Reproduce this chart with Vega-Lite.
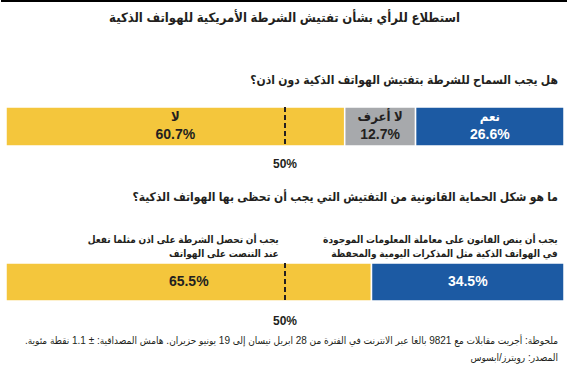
{
  "$schema": "https://vega.github.io/schema/vega-lite/v6.json",
  "padding": 0,
  "background": "white",
  "bounds": "flush",
  "spacing": 105,
  "resolve": {"scale": {"color": "independent", "x": "independent", "y": "independent"}},
  "config": {
    "view": {"stroke": null},
    "font": "Liberation Sans, DejaVu Sans Condensed, DejaVu Sans",
    "title": {"font": "Liberation Sans, DejaVu Sans Condensed, DejaVu Sans", "color": "#231f20"},
    "text": {"font": "Liberation Sans, DejaVu Sans Condensed, DejaVu Sans"}
  },
  "vconcat": [
    {
      "width": 567,
      "height": 2,
      "data": {"values": [{}]},
      "mark": {"type": "rule", "strokeWidth": 2, "color": "#000000"},
      "encoding": {
        "x": {"datum": 0, "type": "quantitative", "scale": {"domain": [0, 1], "range": [0, 567]}, "axis": null},
        "x2": {"datum": 1}
      },
      "title": {
        "text": "استطلاع للرأي بشأن تفتيش الشرطة الأمريكية للهواتف الذكية",
        "orient": "bottom",
        "anchor": "middle",
        "offset": 10,
        "fontSize": 13,
        "fontWeight": "bold"
      }
    },
    {
      "bounds": "flush",
      "spacing": 117,
      "resolve": {"scale": {"color": "independent", "x": "independent", "y": "independent"}},
      "vconcat": [
        {
          "width": 567,
          "height": 39,
          "title": {
            "text": "هل يجب السماح للشرطة بتفتيش الهواتف الذكية دون اذن؟",
            "orient": "top",
            "anchor": "end",
            "offset": 19,
            "dx": -10,
            "fontSize": 12,
            "fontWeight": "bold"
          },
          "data": {
            "values": [
              {"question": "q1", "answer": "لا", "value": 0.607, "order": 1},
              {"question": "q1", "answer": "لا أعرف", "value": 0.127, "order": 2},
              {"question": "q1", "answer": "نعم", "value": 0.266, "order": 3}
            ]
          },
          "transform": [
            {"stack": "value", "groupby": ["question"], "sort": [{"field": "order"}], "as": ["v0", "v1"]},
            {"calculate": "(datum.v0 + datum.v1) / 2", "as": "mid"}
          ],
          "layer": [
            {
              "mark": {"type": "bar", "stroke": "white", "strokeWidth": 1.5},
              "encoding": {
                "y": {"field": "question", "type": "nominal", "axis": null, "scale": {"paddingInner": 0, "paddingOuter": 0}},
                "x": {"field": "v0", "type": "quantitative", "scale": {"domain": [0, 1], "range": [5, 563]}, "axis": null},
                "x2": {"field": "v1"},
                "color": {
                  "field": "answer",
                  "type": "nominal",
                  "scale": {"domain": ["لا", "لا أعرف", "نعم"], "range": ["#F4C63C", "#A7A9AC", "#1C5AA3"]},
                  "legend": null
                }
              }
            },
            {
              "mark": {"type": "text", "dy": -10, "fontSize": 13, "fontWeight": "bold"},
              "encoding": {
                "y": {"field": "question", "type": "nominal"},
                "x": {"field": "mid", "type": "quantitative"},
                "text": {"field": "answer"},
                "color": {"condition": {"test": "datum.order === 3", "value": "#ffffff"}, "value": "#231f20"}
              }
            },
            {
              "mark": {"type": "text", "dy": 8, "fontSize": 14, "fontWeight": "bold"},
              "encoding": {
                "y": {"field": "question", "type": "nominal"},
                "x": {"field": "mid", "type": "quantitative"},
                "text": {"field": "value", "type": "quantitative", "format": ".1%"},
                "color": {"condition": {"test": "datum.order === 3", "value": "#ffffff"}, "value": "#231f20"}
              }
            },
            {
              "data": {"values": [{}]},
              "mark": {"type": "rule", "strokeDash": [5, 3], "strokeWidth": 2, "color": "#231f20", "y2Offset": 14},
              "encoding": {"x": {"datum": 0.5, "type": "quantitative"}}
            },
            {
              "data": {"values": [{}]},
              "mark": {"type": "text", "dy": 37, "fontSize": 12, "fontWeight": "bold", "color": "#231f20"},
              "encoding": {"x": {"datum": 0.5, "type": "quantitative"}, "text": {"value": "50%"}}
            }
          ]
        },
        {
          "bounds": "flush",
          "spacing": 31,
          "resolve": {"scale": {"color": "independent", "x": "independent", "y": "independent"}},
          "vconcat": [
            {
              "width": 567,
              "height": 38,
              "title": {
                "text": "ما هو شكل الحماية القانونية من التفتيش التي يجب أن تحظى بها الهواتف الذكية؟",
                "orient": "top",
                "anchor": "end",
                "offset": 31,
                "dx": -10,
                "fontSize": 12,
                "fontWeight": "bold"
              },
              "data": {
                "values": [
                  {"question": "q2", "answer": "يجب أن تحصل الشرطة على اذن مثلما تفعل\nعند التنصت على الهواتف", "value": 0.655, "order": 1},
                  {"question": "q2", "answer": "يجب أن ينص القانون على معاملة المعلومات الموجودة\nفي الهواتف الذكية مثل المذكرات اليومية والمحفظة", "value": 0.345, "order": 2}
                ]
              },
              "transform": [
                {"stack": "value", "groupby": ["question"], "sort": [{"field": "order"}], "as": ["v0", "v1"]},
                {"calculate": "(datum.v0 + datum.v1) / 2", "as": "mid"}
              ],
              "layer": [
                {
                  "mark": {"type": "bar", "stroke": "white", "strokeWidth": 1.5},
                  "encoding": {
                    "y": {"field": "question", "type": "nominal", "axis": null, "scale": {"paddingInner": 0, "paddingOuter": 0}},
                    "x": {"field": "v0", "type": "quantitative", "scale": {"domain": [0, 1], "range": [5, 563]}, "axis": null},
                    "x2": {"field": "v1"},
                    "color": {
                      "field": "answer",
                      "type": "nominal",
                      "sort": {"field": "order"},
                      "scale": {"range": ["#F4C63C", "#1C5AA3"]},
                      "legend": null
                    }
                  }
                },
                {
                  "mark": {"type": "text", "align": "right", "baseline": "middle", "lineBreak": "\n", "lineHeight": 14, "dx": 90, "dy": -42, "fontSize": 10, "fontWeight": "bold", "color": "#231f20"},
                  "encoding": {
                    "y": {"field": "question", "type": "nominal"},
                    "x": {"field": "mid", "type": "quantitative"},
                    "text": {"field": "answer"}
                  }
                },
                {
                  "mark": {"type": "text", "fontSize": 14, "fontWeight": "bold"},
                  "encoding": {
                    "y": {"field": "question", "type": "nominal"},
                    "x": {"field": "mid", "type": "quantitative"},
                    "text": {"field": "value", "type": "quantitative", "format": ".1%"},
                    "color": {"condition": {"test": "datum.order === 2", "value": "#ffffff"}, "value": "#231f20"}
                  }
                },
                {
                  "data": {"values": [{}]},
                  "mark": {"type": "rule", "strokeDash": [5, 3], "strokeWidth": 2, "color": "#231f20", "y2Offset": 12},
                  "encoding": {"x": {"datum": 0.5, "type": "quantitative"}}
                },
                {
                  "data": {"values": [{}]},
                  "mark": {"type": "text", "dy": 39, "fontSize": 12, "fontWeight": "bold", "color": "#231f20"},
                  "encoding": {"x": {"datum": 0.5, "type": "quantitative"}, "text": {"value": "50%"}}
                }
              ]
            },
            {
              "width": 567,
              "height": 34,
              "data": {
                "values": [
                  {"line": "ملحوظة: أجريت مقابلات مع 9821 بالغا عبر الانترنت في الفترة من 28 ابريل نيسان إلى 19 يونيو حزيران. هامش المصداقية: ± 1.1 نقطة مئوية.‏", "k": 1},
                  {"line": "المصدر: رويترز/ابسوس", "k": 2}
                ]
              },
              "mark": {"type": "text", "align": "right", "fontSize": 10, "color": "#231f20"},
              "encoding": {
                "x": {"datum": 1, "type": "quantitative", "scale": {"domain": [0, 1], "range": [0, 557]}, "axis": null},
                "y": {"field": "k", "type": "ordinal", "axis": null},
                "text": {"field": "line"}
              }
            }
          ]
        }
      ]
    }
  ]
}
